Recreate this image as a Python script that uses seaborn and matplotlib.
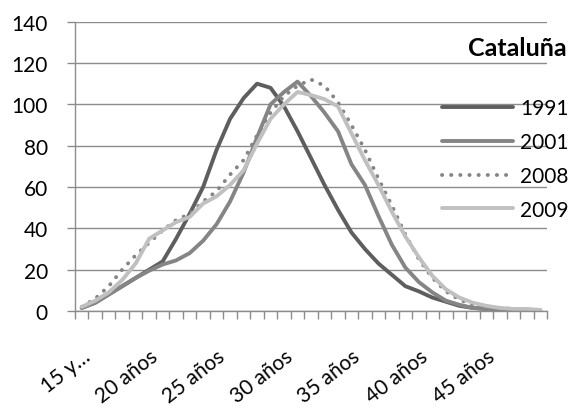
import numpy as np
import pandas as pd
import seaborn as sns
import matplotlib
matplotlib.use("Agg")
import matplotlib.pyplot as plt
from matplotlib.ticker import FixedLocator

ages = ["15 y…", "16 años", "17 años", "18 años", "19 años", "20 años", "21 años",
        "22 años", "23 años", "24 años", "25 años", "26 años", "27 años", "28 años",
        "29 años", "30 años", "31 años", "32 años", "33 años", "34 años", "35 años",
        "36 años", "37 años", "38 años", "39 años", "40 años", "41 años", "42 años",
        "43 años", "44 años", "45 años", "46 años", "47 años", "48 años", "49 años"]

y1991 = [1.5, 4, 8, 12, 16, 20, 24, 35, 47, 60, 78, 93, 103, 110, 108, 99, 87, 74,
         61, 49, 38, 30, 23, 17.5, 12, 9.5, 6.5, 4.5, 2.5, 1.5, 1, 0.5, 0.5, 0.3, 0.3]
y2001 = [1.5, 4, 8, 12, 16, 19.5, 22.5, 24.5, 28, 34, 42, 53, 67, 84, 100, 106, 111,
         104, 96, 87, 71, 61, 46, 32, 21, 14, 9, 5, 3, 1.5, 1, 0.5, 0.5, 0.3, 0.3]
y2008 = [2, 6, 12, 20, 27, 33, 39, 44, 47, 53, 58, 66, 73, 85, 96, 104, 109, 112,
         109, 101, 90, 78, 64, 51, 37, 25, 16, 9.5, 5.5, 3, 2, 1.5, 1, 0.5, 0.5]
y2009 = [2, 5, 9, 15, 23, 35, 39, 43, 45.5, 52, 55.5, 61, 68, 81, 93, 100, 106,
         104.5, 102.5, 99, 86, 73, 61, 48, 36, 26, 17, 10.5, 6.5, 4, 2.5, 1.5, 1, 1, 0.5]

series = ["1991", "2001", "2008", "2009"]
values = [y1991, y2001, y2008, y2009]
colors = ["#5e5e5e", "#858585", "#858585", "#c0c0c0"]
styles = ["-", "-", (0, (0.05, 2.3)), "-"]
yticks = [0, 20, 40, 60, 80, 100, 120, 140]
title = "Cataluña"

sns.set_theme(style="white")
plt.rcParams["font.family"] = ["Lato", "DejaVu Sans"]

PX = 72 / 100  # points per pixel

fig = plt.figure(figsize=(5.75, 4.10), dpi=100)
ax = fig.add_axes([75 / 575, 1 - 312 / 410, (547 - 75) / 575, (312 - 22.7) / 410])

x = np.arange(len(ages))
df = pd.DataFrame({"x": x})
for name, vals, col, ls in zip(series, values, colors, styles):
    df[name] = vals
    sns.lineplot(data=df, x="x", y=name, ax=ax, color=col, linewidth=2.8,
                 linestyle=ls, dash_capstyle="round", solid_capstyle="round",
                 label=name)

grid_col = "#8c8c8c"
ax.set_xlim(-0.5, len(ages) - 0.5)
ax.set_ylim(0, 140)
ax.set_yticks(yticks)
ax.set_yticklabels([str(t) for t in yticks])
ax.yaxis.grid(True, color=grid_col, linewidth=1.0)
ax.xaxis.grid(False)
ax.set_xlabel("")
ax.set_ylabel("")

# labels every 5 categories (major, no marks); boundary marks as minor ticks
lab_pos = x[::5]
ax.set_xticks(lab_pos)
ax.set_xticklabels([ages[i] for i in lab_pos])
ax.xaxis.set_minor_locator(FixedLocator(np.arange(-0.5, len(ages), 1.0)))
ax.tick_params(axis="x", which="minor", direction="out", length=8 * PX, width=1.0,
               color=grid_col, bottom=True)
ax.tick_params(axis="x", which="major", length=0, pad=35 * PX, labelsize=15,
               labelcolor="black", bottom=True, labelrotation=38)
ax.tick_params(axis="y", which="major", direction="out", length=8 * PX, width=1.0,
               color=grid_col, pad=19 * PX, labelsize=15, labelcolor="black", left=True)
plt.setp(ax.get_xticklabels(), ha="right", va="top", rotation_mode="anchor")

for s in ["top", "right"]:
    ax.spines[s].set_visible(False)
for s in ["left", "bottom"]:
    ax.spines[s].set_color(grid_col)
    ax.spines[s].set_linewidth(1.0)

leg = ax.legend(loc="center left", bbox_to_anchor=(442 / 575, 1 - 160 / 410),
                bbox_transform=fig.transFigure, frameon=False, fontsize=15,
                handlelength=3.4, handletextpad=0.35, labelspacing=0.66,
                borderpad=0, borderaxespad=0)
for t in leg.get_texts():
    t.set_color("black")

fig.text(567 / 575, 1 - 48 / 410, title, ha="right", va="center",
         fontsize=18, fontweight="bold", color="black")

fig.savefig("out.png", dpi=100)
